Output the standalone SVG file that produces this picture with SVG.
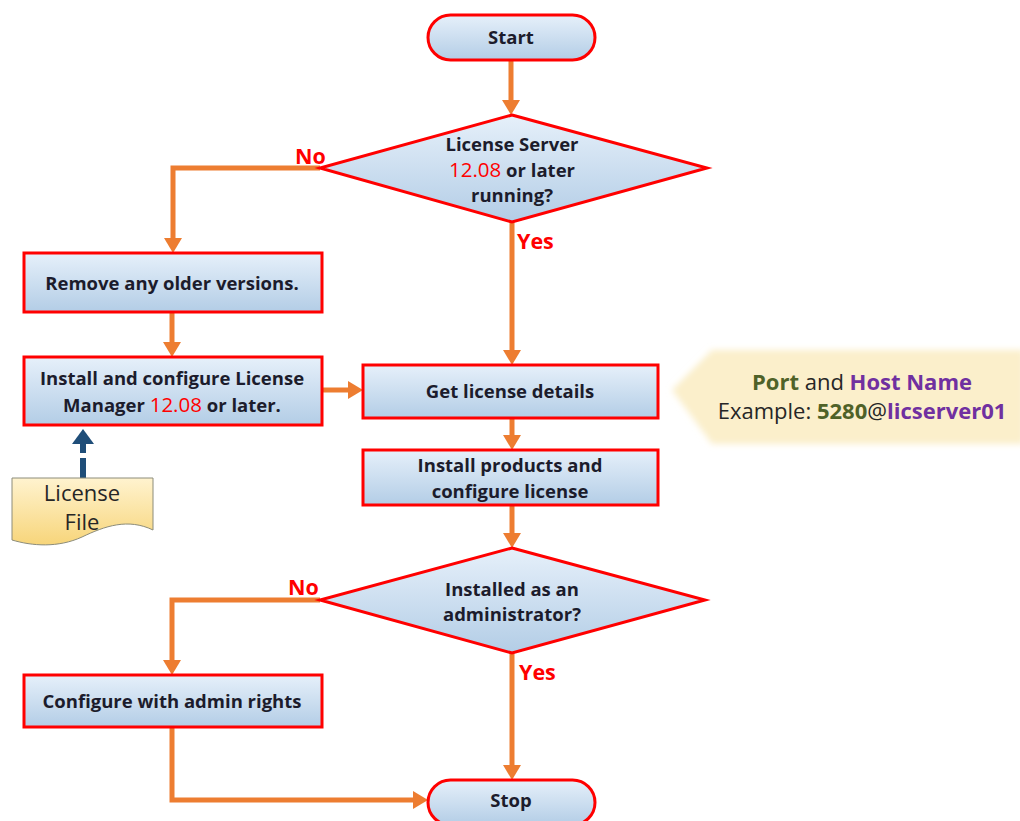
<svg xmlns="http://www.w3.org/2000/svg" width="1020" height="821" viewBox="0 0 1020 821">
<defs>
<linearGradient id="boxg" x1="0" y1="0" x2="0" y2="1">
<stop offset="0" stop-color="#E6F0FA"/>
<stop offset="1" stop-color="#B3CDE6"/>
</linearGradient>
<linearGradient id="docg" x1="0" y1="0" x2="0" y2="1">
<stop offset="0" stop-color="#FFF3CF"/>
<stop offset="1" stop-color="#F7D57A"/>
</linearGradient>
<filter id="soft" x="-10%" y="-20%" width="120%" height="140%">
<feGaussianBlur stdDeviation="3"/>
</filter>
<marker id="ah" markerUnits="userSpaceOnUse" markerWidth="16" markerHeight="18" refX="1" refY="9" orient="auto">
<path d="M0,0 L15,9 L0,18 Z" fill="#ED7D31"/>
</marker>
<marker id="bh" markerUnits="userSpaceOnUse" markerWidth="16" markerHeight="22" refX="1" refY="11" orient="auto">
<path d="M0,0 L15,11 L0,22 Z" fill="#1F4E79"/>
</marker>
<style>
.box{fill:url(#boxg);stroke:#FF0000;stroke-width:3}
.t{font-family:"Open Sans",Lato,sans-serif;font-weight:bold;font-size:18.5px;fill:#1C1C2C;text-anchor:middle}
.v{font-family:"Open Sans",Lato,sans-serif;font-weight:normal;font-size:20.5px;fill:#FF0000}
.lbl{font-family:"Open Sans",Lato,sans-serif;font-weight:bold;font-size:21.5px;fill:#FF0000}
.con{fill:none;stroke:#ED7D31;stroke-width:5;marker-end:url(#ah)}
.c{font-family:"Open Sans",Lato,sans-serif;font-size:22px;text-anchor:middle;fill:#262626}
</style>
</defs>
<rect width="1020" height="821" fill="#FFFFFF"/>

<g id="connectors">
<path class="con" d="M511 60 V101"/>
<path class="con" d="M320 168 H173 V239"/>
<path class="con" d="M512 222 V351"/>
<path class="con" d="M172 312 V343"/>
<path class="con" d="M322 390 H349"/>
<path class="con" d="M512 418 V436"/>
<path class="con" d="M512 505 V534"/>
<path class="con" d="M320 600 H172 V661"/>
<path class="con" d="M512 653 V766"/>
<path class="con" d="M172 727 V800 H414"/>
<path d="M83 478 V443" fill="none" stroke="#1F4E79" stroke-width="6" stroke-dasharray="20 5 10" marker-end="url(#bh)"/>
</g>

<g id="start">
<rect class="box" x="428" y="15" width="167" height="45" rx="22.5"/>
<text class="t" x="511" y="44">Start</text>
</g>

<g id="d1">
<polygon class="box" points="512,115 707,168 512,222 320,168"/>
<text class="t" x="512" y="151">License Server</text>
<text class="t" x="512" y="177"><tspan class="v">12.08</tspan> or later</text>
<text class="t" x="512" y="202">running?</text>
</g>
<text class="lbl" x="295" y="164">No</text>
<text class="lbl" x="517" y="249">Yes</text>

<g id="remove">
<rect class="box" x="24" y="253" width="298" height="59"/>
<text class="t" x="172" y="290">Remove any older versions.</text>
</g>

<g id="installlm">
<rect class="box" x="24" y="357" width="298" height="68"/>
<text class="t" x="172" y="385">Install and configure License</text>
<text class="t" x="172" y="412">Manager <tspan class="v">12.08</tspan> or later.</text>
</g>

<g id="licensefile">
<path d="M12 478 H153 V530 C128 518 105 526 82 537 C58 548 32 546 12 540 Z" fill="url(#docg)" stroke="#8C8C7A" stroke-width="1"/>
<text class="c" x="82" y="501" font-size="23">License</text>
<text class="c" x="82" y="530" font-size="23">File</text>
</g>

<g id="getlicense">
<rect class="box" x="363" y="365" width="295" height="53"/>
<text class="t" x="510" y="398">Get license details</text>
</g>

<g id="callout">
<polygon points="672,390 712,350 1024,350 1024,444 712,444" fill="#FBEFCB" filter="url(#soft)"/>
<text class="c" x="862" y="390"><tspan font-weight="bold" fill="#4F6228">Port</tspan> and <tspan font-weight="bold" fill="#7030A0">Host Name</tspan></text>
<text class="c" x="862" y="419">Example: <tspan font-weight="bold" fill="#4F6228">5280</tspan>@<tspan font-weight="bold" fill="#7030A0">licserver01</tspan></text>
</g>

<g id="installproducts">
<rect class="box" x="363" y="450" width="295" height="55"/>
<text class="t" x="510" y="472">Install products and</text>
<text class="t" x="510" y="498">configure license</text>
</g>

<g id="d2">
<polygon class="box" points="512,548 705,600 512,653 320,600"/>
<text class="t" x="512" y="596">Installed as an</text>
<text class="t" x="512" y="621">administrator?</text>
</g>
<text class="lbl" x="288" y="595">No</text>
<text class="lbl" x="519" y="680">Yes</text>

<g id="configure">
<rect class="box" x="24" y="675" width="298" height="52"/>
<text class="t" x="172" y="708">Configure with admin rights</text>
</g>

<g id="stop">
<rect class="box" x="428" y="780" width="167" height="45" rx="22.5"/>
<text class="t" x="511" y="807">Stop</text>
</g>
</svg>
